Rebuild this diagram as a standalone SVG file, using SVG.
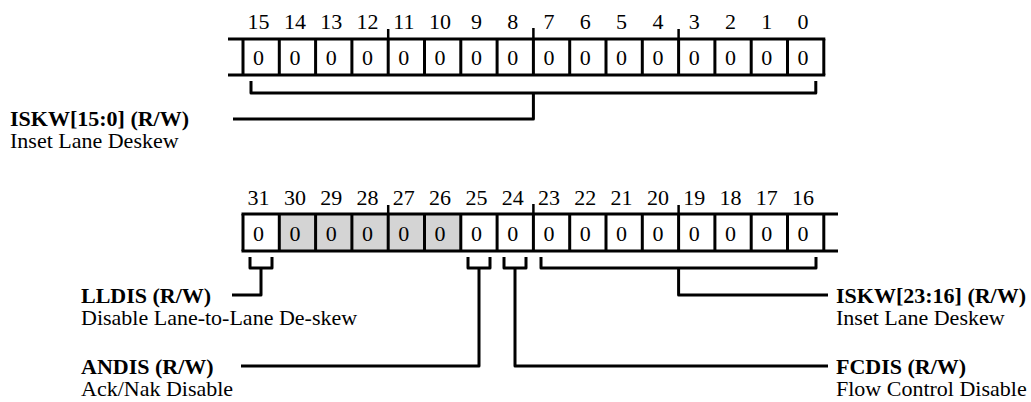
<svg xmlns="http://www.w3.org/2000/svg" width="1031" height="402" viewBox="0 0 1031 402">
<style>
text{font-family:"Liberation Serif","Times New Roman",serif;font-size:22px;fill:#000}
.num{text-anchor:middle;font-size:21.5px}
.b{font-weight:bold}
.ln{stroke:#000;stroke-width:3;fill:none;stroke-linejoin:round;stroke-linecap:butt}
.tk{stroke:#000;stroke-width:2.5;fill:none}
.sh{fill:#d4d4d4;stroke:none}
</style>
<rect width="1031" height="402" fill="#fff"/>
<g id="reg-low">
<path class="ln" d="M228 39H825.3M228 75H825.3"/>
<path class="ln" d="M243 39V75M279.3 39V75M315.6 39V75M351.9 39V75M388.2 39V75M424.5 39V75M460.8 39V75M497.1 39V75M533.4 39V75M569.7 39V75M606 39V75M642.3 39V75M678.6 39V75M714.9 39V75M751.2 39V75M787.5 39V75M823.8 39V75"/>
<path class="tk" d="M388.2 29V39M533.4 28V39M678.6 29V39"/>
<g class="num">
<text x="258.6" y="29">15</text><text x="294.9" y="29">14</text><text x="331.2" y="29">13</text><text x="367.5" y="29">12</text><text x="403.8" y="29">11</text><text x="440.1" y="29">10</text><text x="476.4" y="29">9</text><text x="512.7" y="29">8</text><text x="549" y="29">7</text><text x="585.3" y="29">6</text><text x="621.6" y="29">5</text><text x="657.9" y="29">4</text><text x="694.2" y="29">3</text><text x="730.5" y="29">2</text><text x="766.8" y="29">1</text><text x="803.1" y="29">0</text>
<text x="258.6" y="64.5">0</text><text x="294.9" y="64.5">0</text><text x="331.2" y="64.5">0</text><text x="367.5" y="64.5">0</text><text x="403.8" y="64.5">0</text><text x="440.1" y="64.5">0</text><text x="476.4" y="64.5">0</text><text x="512.7" y="64.5">0</text><text x="549" y="64.5">0</text><text x="585.3" y="64.5">0</text><text x="621.6" y="64.5">0</text><text x="657.9" y="64.5">0</text><text x="694.2" y="64.5">0</text><text x="730.5" y="64.5">0</text><text x="766.8" y="64.5">0</text><text x="803.1" y="64.5">0</text>
</g>
</g>
<g id="reg-high">
<rect class="sh" x="279.3" y="214" width="181.5" height="37"/>
<path class="ln" d="M241.5 214H838M241.5 251H838"/>
<path class="ln" d="M243 214V251M279.3 214V251M315.6 214V251M351.9 214V251M388.2 214V251M424.5 214V251M460.8 214V251M497.1 214V251M533.4 214V251M569.7 214V251M606 214V251M642.3 214V251M678.6 214V251M714.9 214V251M751.2 214V251M787.5 214V251M823.8 214V251"/>
<path class="tk" d="M388.2 205V214M533.4 204V214M678.6 205V214"/>
<g class="num">
<text x="258.6" y="205">31</text><text x="294.9" y="205">30</text><text x="331.2" y="205">29</text><text x="367.5" y="205">28</text><text x="403.8" y="205">27</text><text x="440.1" y="205">26</text><text x="476.4" y="205">25</text><text x="512.7" y="205">24</text><text x="549" y="205">23</text><text x="585.3" y="205">22</text><text x="621.6" y="205">21</text><text x="657.9" y="205">20</text><text x="694.2" y="205">19</text><text x="730.5" y="205">18</text><text x="766.8" y="205">17</text><text x="803.1" y="205">16</text>
<text x="258.6" y="240.5">0</text><text x="294.9" y="240.5">0</text><text x="331.2" y="240.5">0</text><text x="367.5" y="240.5">0</text><text x="403.8" y="240.5">0</text><text x="440.1" y="240.5">0</text><text x="476.4" y="240.5">0</text><text x="512.7" y="240.5">0</text><text x="549" y="240.5">0</text><text x="585.3" y="240.5">0</text><text x="621.6" y="240.5">0</text><text x="657.9" y="240.5">0</text><text x="694.2" y="240.5">0</text><text x="730.5" y="240.5">0</text><text x="766.8" y="240.5">0</text><text x="803.1" y="240.5">0</text>
</g>
</g>
<g id="connectors">
<path class="ln" d="M251 81V93H815.8V81M533.4 93V119H233"/>
<path class="ln" d="M250 257V268H272V257M261 268V295H232"/>
<path class="ln" d="M468 257V268H490V257M479 268V366H241"/>
<path class="ln" d="M504 257V268H526V257M515 268V366H828"/>
<path class="ln" d="M541 257V268H816V257M678.6 268V295H828"/>
</g>
<g id="label-iskw-low"><text class="b" x="10" y="126">ISKW[15:0] (R/W)</text><text x="10" y="148">Inset Lane Deskew</text></g>
<g id="label-lldis"><text class="b" x="81" y="302.5">LLDIS (R/W)</text><text x="81" y="324.5">Disable Lane-to-Lane De-skew</text></g>
<g id="label-andis"><text class="b" x="81" y="373.5">ANDIS (R/W)</text><text x="81" y="395.5">Ack/Nak Disable</text></g>
<g id="label-iskw-high"><text class="b" x="836" y="302.5">ISKW[23:16] (R/W)</text><text x="836" y="324.5">Inset Lane Deskew</text></g>
<g id="label-fcdis"><text class="b" x="836" y="373.5">FCDIS (R/W)</text><text x="836" y="395.5">Flow Control Disable</text></g>
</svg>
